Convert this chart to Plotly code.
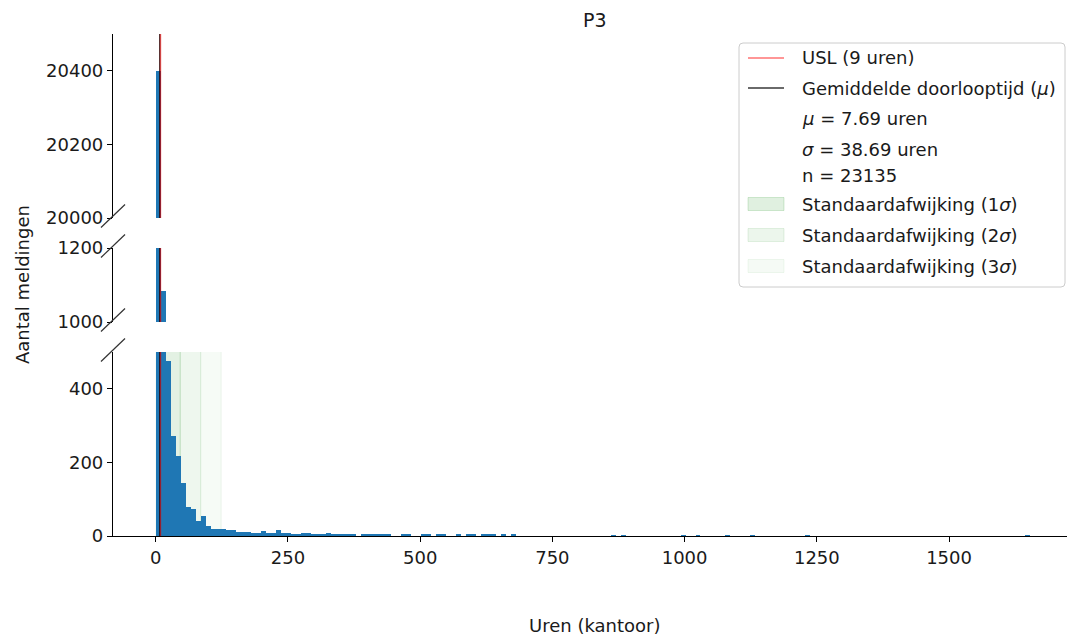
import plotly.graph_objects as go

# ---------------------------------------------------------------
# P3: doorlooptijd (kantooruren) per melding, histogram met gebroken y-as
# ---------------------------------------------------------------
BIN_WIDTH = 9.45   # uren per bin
N_BINS = 175

# aantallen per bin, bins 0..71
COUNTS_HEAD = [
    20400, 1085, 476, 272, 218, 143, 78, 73, 40, 55,
    28, 18, 18, 18, 16, 17, 12, 10, 10, 9,
    9, 13, 9, 7, 15, 8, 8, 5, 5, 7,
    7, 4, 4, 4, 7, 4, 4, 3, 3, 3,
    0, 3, 3, 3, 3, 3, 3, 0, 0, 3,
    3, 0, 0, 3, 3, 0, 3, 6, 0, 0,
    3, 0, 3, 3, 0, 3, 3, 3, 0, 3,
    0, 3,
]
# losse uitschieters verderop in de staart: bin-index -> aantal
COUNTS_TAIL = {91: 2, 93: 2, 105: 2, 108: 2, 114: 2, 119: 2, 130: 2, 174: 2}

MEAN = 7.69
STD = 38.69
USL = 9
N_TOTAL = 23135

X_TICKS = [0, 250, 500, 750, 1000, 1250, 1500]
Y_TICKS_LOW = [0, 200, 400]
Y_TICKS_MID = [1000, 1200]
Y_TICKS_TOP = [20000, 20200, 20400]

counts = COUNTS_HEAD + [0] * (N_BINS - len(COUNTS_HEAD))
for idx, val in COUNTS_TAIL.items():
    counts[idx] = val
centers = [(i + 0.5) * BIN_WIDTH for i in range(N_BINS)]

# ---------------------------------------------------------------
# layout geometry (pixels)
# ---------------------------------------------------------------
FIG_W, FIG_H = 1067, 639
M_L, M_R, M_T, M_B = 113, 0, 34, 103
PW = FIG_W - M_L - M_R
PH = FIG_H - M_T - M_B
BASE = FIG_H - M_B


def px(x):
    return (x - M_L) / PW


def py(y):
    return (BASE - y) / PH


FONT = "DejaVu Sans"
FS = 18
TXT = "#1a1a1a"
BLUE = "#1f77b4"
RED = "rgba(255,0,0,0.55)"
DARK = "rgba(0,0,0,0.78)"

fig = go.Figure()
for yax in ["y", "y2", "y3"]:
    fig.add_trace(go.Bar(
        x=centers, y=counts, width=BIN_WIDTH, yaxis=yax,
        marker=dict(color=BLUE, line=dict(width=0)),
        showlegend=False, hoverinfo="skip",
    ))

shapes = []

# standaardafwijking-banden (alleen onderste paneel)
band_fill = ["rgba(0,128,0,0.11)", "rgba(0,128,0,0.065)", "rgba(0,128,0,0.035)"]
band_edge = ["rgba(0,128,0,0.20)", "rgba(0,128,0,0.13)", "rgba(0,128,0,0.07)"]
prev = 0.0
for k in range(3):
    right = MEAN + (k + 1) * STD
    shapes.append(dict(type="rect", xref="x", yref="y domain", x0=prev, x1=right,
                       y0=0, y1=1, fillcolor=band_fill[k], line=dict(width=0),
                       layer="below"))
    shapes.append(dict(type="line", xref="x", yref="y domain", x0=right, x1=right,
                       y0=0, y1=1, line=dict(color=band_edge[k], width=1),
                       layer="below"))
    prev = right

# gemiddelde en USL in alle drie panelen
for yd in ["y domain", "y2 domain", "y3 domain"]:
    shapes.append(dict(type="line", xref="x", yref=yd, x0=MEAN, x1=MEAN, y0=0, y1=1,
                       line=dict(color=DARK, width=1.5), layer="above"))
    shapes.append(dict(type="line", xref="x", yref=yd, x0=USL, x1=USL, y0=0, y1=1,
                       line=dict(color=RED, width=1.5), layer="above"))

# breukmarkeringen op de y-as
for yb in [218, 248, 322, 352]:
    yc = yb - 2
    shapes.append(dict(type="line", xref="paper", yref="paper",
                       x0=px(M_L - 12), y0=py(yc + 11.5),
                       x1=px(M_L + 12), y1=py(yc - 11.5),
                       line=dict(color="#333333", width=1.2), layer="above"))

# legenda-kader met afgeronde hoeken
lx0, lx1, ly0, ly1 = px(739), px(1065), py(287), py(43)
rx, ry = 4 / PW, 4 / PH
path = (f"M {lx0+rx},{ly1} L {lx1-rx},{ly1} Q {lx1},{ly1} {lx1},{ly1-ry} "
        f"L {lx1},{ly0+ry} Q {lx1},{ly0} {lx1-rx},{ly0} L {lx0+rx},{ly0} "
        f"Q {lx0},{ly0} {lx0},{ly0+ry} L {lx0},{ly1-ry} Q {lx0},{ly1} {lx0+rx},{ly1} Z")
shapes.append(dict(type="path", xref="paper", yref="paper", path=path,
                   fillcolor="rgba(255,255,255,0.85)",
                   line=dict(color="#cccccc", width=1), layer="above"))

# legenda-symbolen
shapes.append(dict(type="line", xref="paper", yref="paper", x0=px(748), x1=px(784),
                   y0=py(58), y1=py(58), line=dict(color=RED, width=1.5), layer="above"))
shapes.append(dict(type="line", xref="paper", yref="paper", x0=px(748), x1=px(784),
                   y0=py(88), y1=py(88), line=dict(color=DARK, width=1.5), layer="above"))
patch_fill = ["rgba(0,128,0,0.12)", "rgba(0,128,0,0.075)", "rgba(0,128,0,0.04)"]
patch_edge = ["rgba(0,128,0,0.16)", "rgba(0,128,0,0.10)", "rgba(0,128,0,0.06)"]
for k, yc in enumerate([204, 235, 266]):
    shapes.append(dict(type="rect", xref="paper", yref="paper",
                       x0=px(748), x1=px(784), y0=py(yc + 6.5), y1=py(yc - 6.5),
                       fillcolor=patch_fill[k], line=dict(color=patch_edge[k], width=1),
                       layer="above"))

legend_rows = [
    (58, "USL (9 uren)"),
    (88, "Gemiddelde doorlooptijd (<i>μ</i>)"),
    (119, f"<i>μ</i> = {MEAN:.2f} uren"),
    (149, f"<i>σ</i> = {STD:.2f} uren"),
    (175, f"n = {N_TOTAL}"),
    (204, "Standaardafwijking (1<i>σ</i>)"),
    (235, "Standaardafwijking (2<i>σ</i>)"),
    (266, "Standaardafwijking (3<i>σ</i>)"),
]
annotations = []
for yc, text in legend_rows:
    annotations.append(dict(xref="paper", yref="paper", x=px(800), y=py(yc),
                            xanchor="left", yanchor="middle", text=text,
                            showarrow=False, font=dict(family=FONT, size=FS, color=TXT)))

annotations.append(dict(xref="paper", yref="paper", x=px(595), y=py(20),
                        xanchor="center", yanchor="middle", text="P3", showarrow=False,
                        font=dict(family=FONT, size=19, color=TXT)))
annotations.append(dict(xref="paper", yref="paper", x=px(594), y=py(625),
                        xanchor="center", yanchor="middle", text="Uren (kantoor)",
                        showarrow=False, font=dict(family=FONT, size=FS, color=TXT)))
annotations.append(dict(xref="paper", yref="paper", x=px(22), y=py(285),
                        xanchor="center", yanchor="middle", text="Aantal meldingen",
                        textangle=-90, showarrow=False,
                        font=dict(family=FONT, size=FS, color=TXT)))

axis_common = dict(showgrid=False, zeroline=False, showline=True, linecolor="black",
                   linewidth=1.2, ticks="outside", ticklen=5, tickwidth=1.2,
                   tickcolor="black", tickformat="d",
                   tickfont=dict(family=FONT, size=FS, color=TXT))

x_left = (M_L - 155.7) / 0.5289
x_right = (FIG_W - M_R - 155.7) / 0.5289

fig.update_layout(
    width=FIG_W, height=FIG_H,
    margin=dict(l=M_L, r=M_R, t=M_T, b=M_B),
    paper_bgcolor="white", plot_bgcolor="white",
    barmode="overlay", bargap=0, showlegend=False,
    xaxis=dict(range=[x_left, x_right], tickvals=X_TICKS, anchor="y", **axis_common),
    yaxis=dict(domain=[0, py(352)], range=[0, 500], tickvals=Y_TICKS_LOW,
               anchor="x", **axis_common),
    yaxis2=dict(domain=[py(322), py(248)], range=[1000, 1200], tickvals=Y_TICKS_MID,
                anchor="x", **axis_common),
    yaxis3=dict(domain=[py(218), 1], range=[20000, 20500], tickvals=Y_TICKS_TOP,
                anchor="x", **axis_common),
    shapes=shapes, annotations=annotations,
)

fig.write_html("out.html")
